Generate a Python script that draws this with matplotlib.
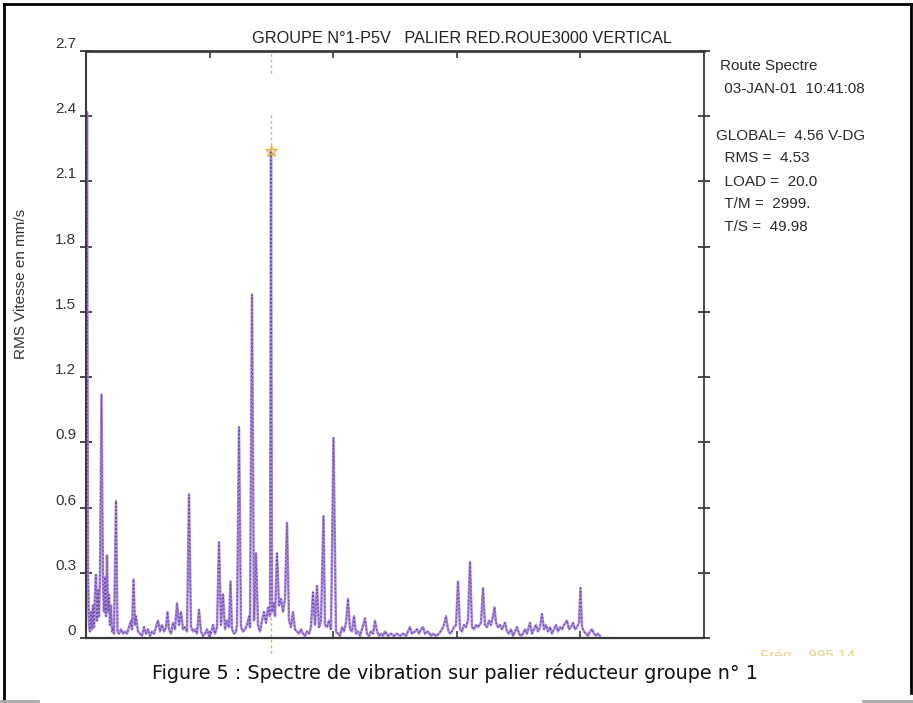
import matplotlib
matplotlib.use('Agg')
import matplotlib.pyplot as plt
from matplotlib.lines import Line2D
from matplotlib.patches import Rectangle

freq = [0, 5, 10, 15, 20, 25, 30, 35, 40, 45, 50, 55, 60, 65, 70, 77.5, 85, 90, 95, 100,
        105, 110, 115, 120, 125, 130, 135, 140, 150, 157.5, 165, 175, 185, 195, 205, 215, 225, 230, 237.5, 245,
        250, 260, 270, 280, 290, 300, 310, 320, 330, 340, 350, 360, 370, 380, 390, 400, 407.5, 415, 425, 435,
        445, 455, 465, 475, 485, 495, 505, 515, 525, 535, 545, 555, 565, 575, 585, 595, 605, 615, 625, 635,
        645, 655, 665, 675, 685, 695, 705, 715, 722.5, 730, 740, 750, 755, 765, 775, 785, 795, 805, 815, 820,
        830, 840, 850, 860, 870, 880, 890, 900, 910, 920, 925, 930, 940, 945, 955, 965, 975, 985, 995, 1005,
        1015, 1025, 1035, 1045, 1055, 1065, 1075, 1085, 1095, 1105, 1115, 1125, 1135, 1145, 1155, 1165, 1175, 1187.5, 1195, 1205,
        1215, 1225, 1237.5, 1250, 1260, 1270, 1280, 1290, 1300, 1310, 1320, 1330, 1340, 1350, 1360, 1370, 1380, 1395, 1405, 1415,
        1425, 1435, 1445, 1455, 1465, 1475, 1485, 1495, 1510, 1525, 1540, 1555, 1570, 1585, 1600, 1610, 1620, 1630, 1645, 1655,
        1665, 1675, 1685, 1695, 1710, 1725, 1735, 1750, 1765, 1780, 1790, 1800, 1810, 1820, 1830, 1840, 1850, 1860, 1870, 1880,
        1890, 1900, 1910, 1920, 1930, 1940, 1950, 1960, 1975, 1985, 1995, 2005, 2015, 2025, 2035, 2042.5, 2050, 2060, 2070, 2080,
        2095, 2105, 2115, 2125, 2135, 2145, 2155, 2165, 2175, 2185, 2195, 2205, 2220, 2230, 2240, 2250, 2260, 2270, 2280, 2290,
        2300, 2310, 2320, 2330, 2340, 2350, 2360, 2370, 2380, 2390, 2405, 2415, 2425, 2435, 2445, 2455, 2465, 2472.5, 2480, 2490,
        2500, 2510, 2520, 2530, 2540, 2550, 2560, 2570]
amp = [0.10, 2.42, 0.30, 0.06, 0.03, 0.12, 0.04, 0.15, 0.05, 0.20, 0.29, 0.08, 0.22, 0.10, 0.30, 1.12, 0.25, 0.12, 0.28, 0.10,
       0.38, 0.12, 0.20, 0.06, 0.15, 0.03, 0.05, 0.02, 0.63, 0.03, 0.02, 0.04, 0.02, 0.03, 0.02, 0.05, 0.08, 0.04, 0.27, 0.06,
       0.10, 0.03, 0.02, 0.01, 0.05, 0.02, 0.04, 0.01, 0.03, 0.02, 0.05, 0.08, 0.03, 0.06, 0.03, 0.05, 0.12, 0.04, 0.02, 0.07,
       0.04, 0.16, 0.06, 0.12, 0.04, 0.05, 0.03, 0.66, 0.05, 0.03, 0.04, 0.02, 0.13, 0.03, 0.01, 0.02, 0.04, 0.01, 0.02, 0.06,
       0.02, 0.05, 0.44, 0.06, 0.20, 0.04, 0.08, 0.05, 0.26, 0.04, 0.02, 0.03, 0.06, 0.97, 0.05, 0.03, 0.04, 0.06, 0.10, 0.05,
       1.58, 0.08, 0.39, 0.06, 0.03, 0.08, 0.12, 0.07, 0.14, 0.10, 2.24, 0.12, 0.16, 0.10, 0.39, 0.15, 0.18, 0.12, 0.18, 0.53,
       0.08, 0.05, 0.12, 0.04, 0.03, 0.02, 0.04, 0.02, 0.01, 0.03, 0.02, 0.05, 0.21, 0.06, 0.24, 0.05, 0.08, 0.56, 0.06, 0.05,
       0.08, 0.04, 0.92, 0.03, 0.02, 0.01, 0.05, 0.03, 0.07, 0.18, 0.04, 0.03, 0.10, 0.02, 0.03, 0.01, 0.04, 0.09, 0.02, 0.01,
       0.03, 0.02, 0.08, 0.03, 0.01, 0.02, 0.01, 0.03, 0.01, 0.02, 0.01, 0.02, 0.01, 0.02, 0.01, 0.03, 0.05, 0.02, 0.03, 0.04,
       0.02, 0.04, 0.05, 0.02, 0.03, 0.01, 0.02, 0.01, 0.02, 0.04, 0.06, 0.10, 0.04, 0.02, 0.03, 0.05, 0.06, 0.26, 0.04, 0.03,
       0.06, 0.05, 0.08, 0.35, 0.05, 0.04, 0.06, 0.05, 0.07, 0.23, 0.06, 0.05, 0.08, 0.06, 0.10, 0.14, 0.07, 0.05, 0.06, 0.04,
       0.07, 0.03, 0.02, 0.04, 0.01, 0.03, 0.05, 0.02, 0.01, 0.02, 0.04, 0.02, 0.07, 0.02, 0.04, 0.06, 0.03, 0.05, 0.11, 0.04,
       0.06, 0.03, 0.05, 0.02, 0.04, 0.06, 0.03, 0.05, 0.04, 0.06, 0.08, 0.04, 0.05, 0.07, 0.04, 0.05, 0.07, 0.23, 0.05, 0.03,
       0.02, 0.01, 0.03, 0.04, 0.02, 0.01, 0.02, 0.01]

yticks = [0, 0.3, 0.6, 0.9, 1.2, 1.5, 1.8, 2.1, 2.4, 2.7]
ylabels = ['0', '0.3', '0.6', '0.9', '1.2', '1.5', '1.8', '2.1', '2.4', '2.7']
fmax = 3090
cursor_f = 925
cursor_amp = 2.24
cursor_top = 2.42

title = 'GROUPE N°1-P5V   PALIER RED.ROUE3000 VERTICAL'
info = ['Route Spectre', ' 03-JAN-01  10:41:08', '', 'GLOBAL=  4.56 V-DG',
        '  RMS =  4.53', '  LOAD =  20.0', '  T/M =  2999.', '  T/S =  49.98']
caption = 'Figure 5 : Spectre de vibration sur palier réducteur groupe n° 1'

purple = '#a47ee0'
dark = '#573a86'
yellow = '#e6b24a'
axcol = '#3a3a3a'

W, H = 913, 703
fig = plt.figure(figsize=(W/100, H/100), dpi=100)
fig.patch.set_facecolor('white')
ax = fig.add_axes([86/W, 1-638/H, 618/W, 587/H])

ax.plot(freq, amp, color=purple, lw=1.8, alpha=0.9, zorder=2)
ax.plot(freq, amp, color=dark, lw=0.9, dashes=(1.2, 1.8), alpha=0.8, zorder=3)

# curseur
cur = dict(color=yellow, lw=1.0, dashes=(2, 2), zorder=4)
ax.plot([cursor_f, cursor_f], [cursor_amp, cursor_top], **cur)
ax.plot([cursor_f, cursor_f], [2.6, 2.7], **cur)
ax.plot([cursor_f, cursor_f], [-0.2, 0.12], clip_on=False, **cur)
ax.plot(cursor_f, cursor_amp, marker='*', ms=9, mfc='none', mec=yellow, mew=1.0, zorder=5)

ax.set_xlim(0, fmax)
ax.set_ylim(0, 2.7)
ax.set_xticks([fmax*k/5 for k in range(1, 5)])
ax.set_yticks(yticks)
ax.set_yticklabels(ylabels, family='Liberation Sans', fontsize=11, color='#333333')
for lab in ax.get_yticklabels():
    lab.set_va('bottom')
ax.tick_params(axis='x', direction='in', length=5, width=1.2, top=True, bottom=True,
               labelbottom=False, color=axcol)
ax.tick_params(axis='y', direction='inout', length=8, width=1.3, left=True, right=True,
               pad=3, color=axcol)
for s, w in zip(['top', 'bottom', 'left', 'right'], [2.0, 1.6, 1.5, 1.3]):
    ax.spines[s].set_linewidth(w)
    ax.spines[s].set_color(axcol)

ax.set_title(title, family='Liberation Sans', fontsize=11.7, color='#222222', pad=6, x=0.609)
fig.text(21/W, 1-284/H, 'RMS Vitesse en mm/s', rotation=90, ha='center', va='center',
         family='Liberation Sans', fontsize=11, color='#333333')

ys = [66, 89, 112, 136, 158, 182, 204, 227]
xs_info = [720, 720, 720, 716, 716, 716, 716, 716]
for t, x, y in zip(info, xs_info, ys):
    if t:
        fig.text(x/W, 1-y/H, t, ha='left', va='center', family='Liberation Sans',
                 fontsize=11, color='#2a2a2a')

fig.text(760/W, 1-656/H, 'Fréq    995.14', ha='left', va='center', family='Liberation Sans',
         fontsize=11, color='#e8c870', alpha=0.8, zorder=1)
fig.patches.append(Rectangle((15/W, 0), 850/W, 47/H, transform=fig.transFigure,
                             facecolor='white', edgecolor='none', zorder=2))
fig.text(455/W, 1-673/H, caption, ha='center', va='center', family='DejaVu Sans',
         fontsize=13.8, color='#111111', zorder=3)

# cadre
for xs, yy, c in [([4, 4], [4, 703], 'black'), ([4, 911], [4, 4], 'black'),
                  ([911, 911], [4, 693], 'black'), ([0, 38], [701, 701], '#aaaaaa'),
                  ([863, 913], [701, 701], '#aaaaaa')]:
    fig.add_artist(Line2D([x/W for x in xs], [1-v/H for v in yy], color=c, lw=2,
                          transform=fig.transFigure, zorder=5))

fig.savefig('out.png', dpi=100)
